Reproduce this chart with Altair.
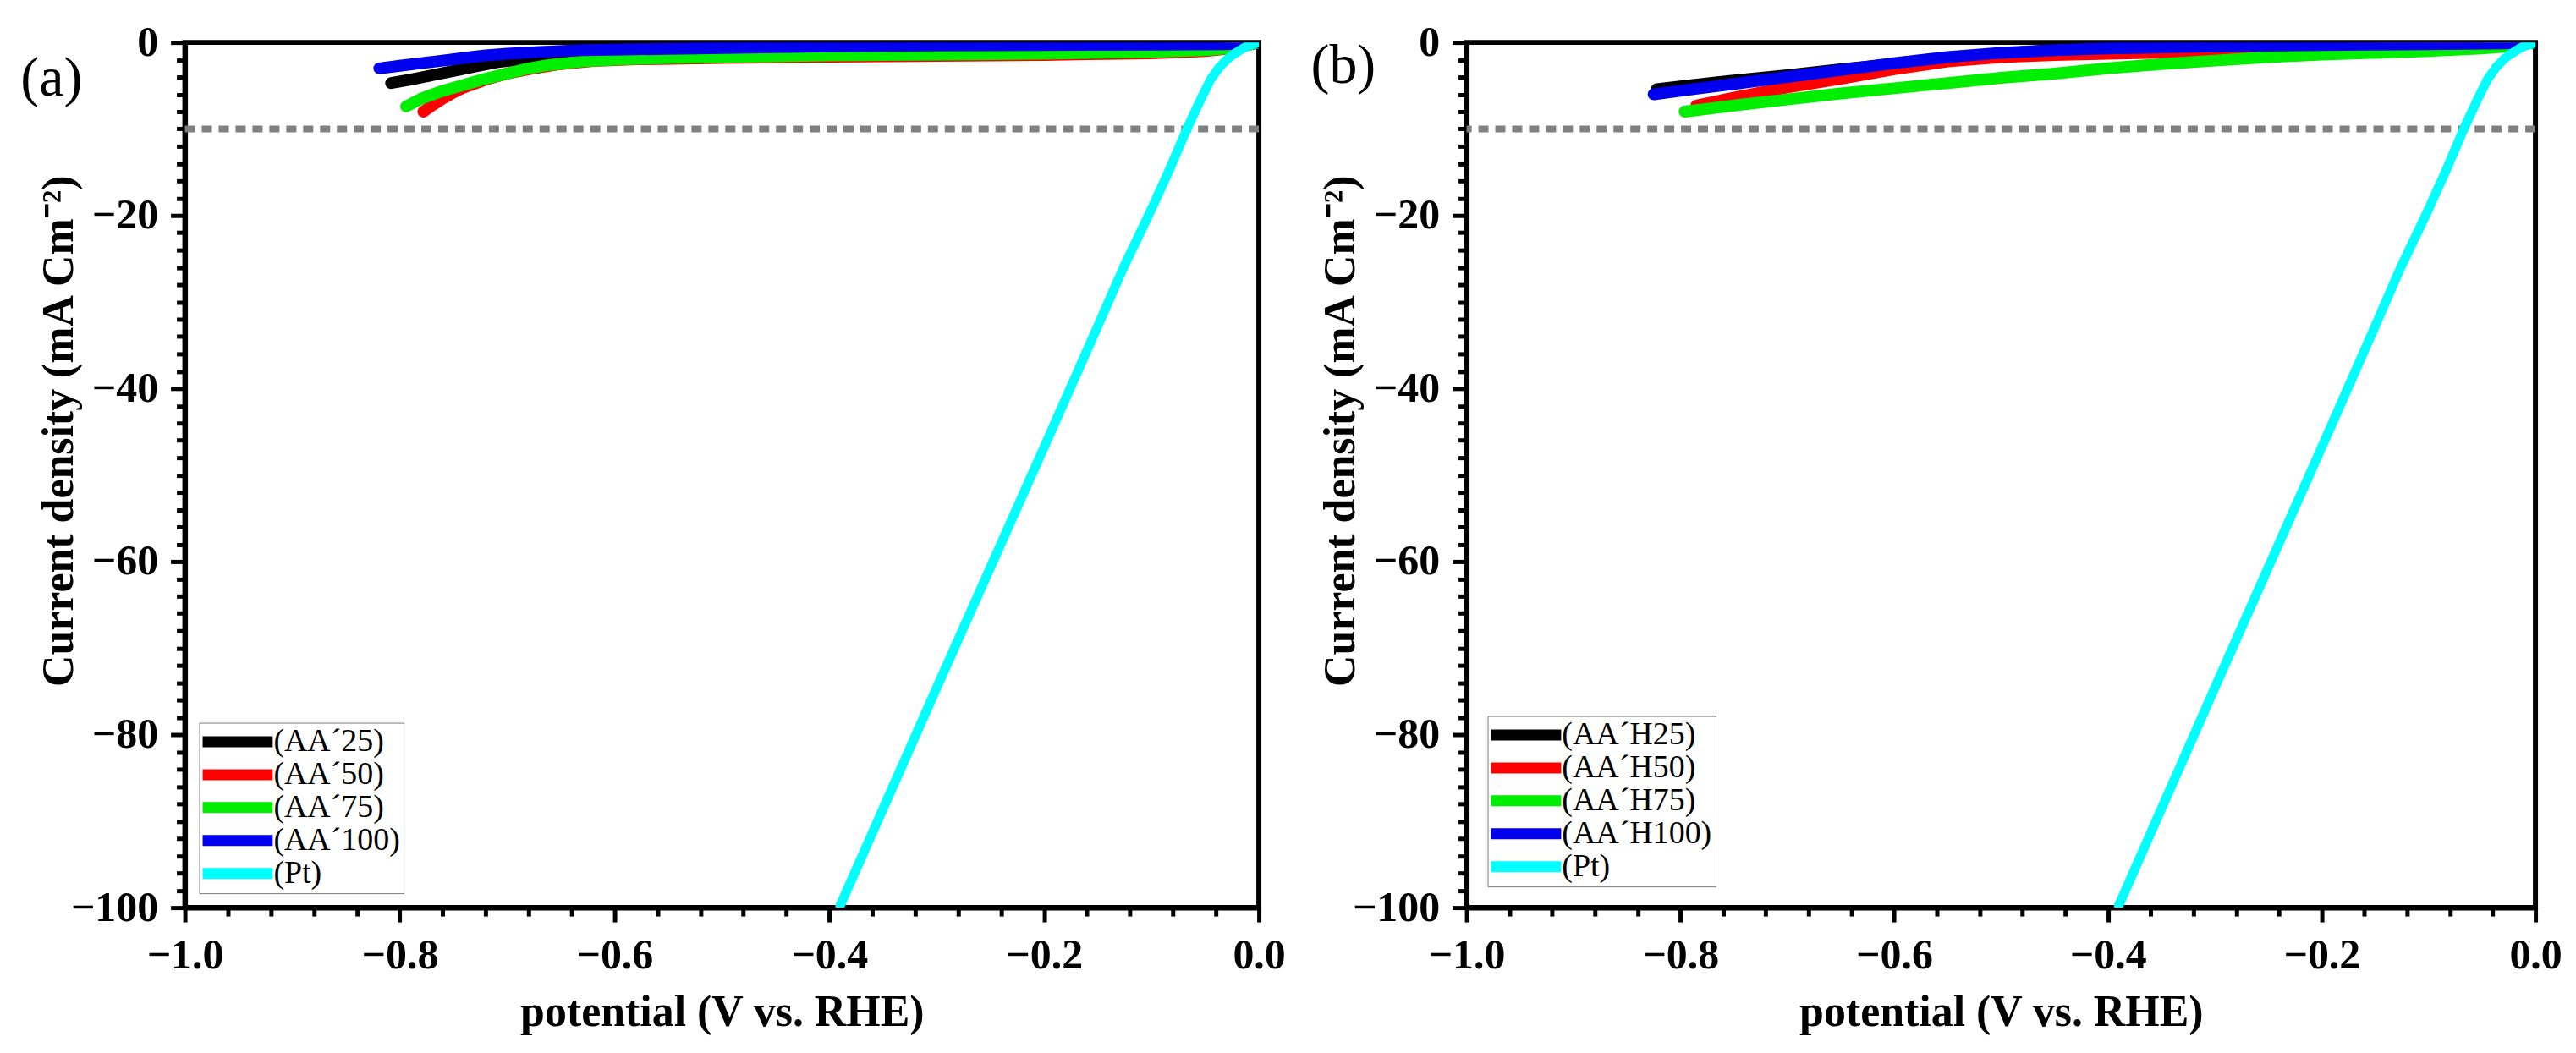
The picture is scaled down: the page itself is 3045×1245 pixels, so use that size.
import altair as alt
import pandas as pd

FONT = "Liberation Serif"
X_TITLE = "potential (V vs. RHE)"
Y_TITLE = "Current density (mA Cm\u207b\u00b2)"

colors = ["#000000", "#ff0000", "#00ee00", "#0000ee", "#00ffff"]

# ---------------- panel (a) ----------------
a_names = ["(AA\u00b425)", "(AA\u00b450)", "(AA\u00b475)", "(AA\u00b4100)", "(Pt)"]

a25_v = [-0.808, -0.79, -0.77, -0.75, -0.73, -0.71, -0.69, -0.67, -0.65, -0.62, -0.58, -0.5, -0.4, -0.3, -0.2, -0.1, -0.05, -0.02, 0.0]
a25_j = [-4.7, -4.3, -3.8, -3.3, -2.8, -2.3, -2.0, -1.8, -1.65, -1.5, -1.4, -1.3, -1.2, -1.1, -1.0, -0.9, -0.8, -0.5, 0.0]

a50_v = [-0.778, -0.77, -0.76, -0.75, -0.74, -0.72, -0.70, -0.68, -0.65, -0.62, -0.58, -0.5, -0.4, -0.3, -0.2, -0.1, -0.05, -0.02, 0.0]
a50_j = [-8.0, -7.3, -6.5, -5.8, -5.2, -4.3, -3.6, -3.1, -2.5, -2.15, -1.95, -1.8, -1.65, -1.55, -1.45, -1.25, -1.0, -0.6, 0.0]

a75_v = [-0.794, -0.78, -0.76, -0.74, -0.72, -0.70, -0.68, -0.66, -0.63, -0.60, -0.55, -0.5, -0.4, -0.3, -0.2, -0.1, -0.05, -0.02, 0.0]
a75_j = [-7.4, -6.5, -5.6, -4.9, -4.2, -3.6, -3.0, -2.6, -2.2, -2.0, -1.8, -1.7, -1.5, -1.4, -1.3, -1.1, -0.9, -0.6, 0.0]

a100_v = [-0.819, -0.80, -0.78, -0.76, -0.74, -0.72, -0.70, -0.67, -0.63, -0.58, -0.5, -0.4, -0.3, -0.2, -0.1, -0.03, 0.0]
a100_j = [-3.0, -2.7, -2.4, -2.1, -1.8, -1.5, -1.3, -1.1, -0.9, -0.8, -0.65, -0.45, -0.35, -0.3, -0.25, -0.2, 0.0]

pt_v = [0.0, -0.005, -0.01, -0.015, -0.02, -0.025, -0.03, -0.037, -0.045, -0.055, -0.067, -0.084, -0.102, -0.126, -0.15, -0.2, -0.25, -0.3, -0.35, -0.39]
pt_j = [0.0, -0.2, -0.4, -0.7, -1.1, -1.5, -2.0, -2.9, -4.3, -6.8, -10.0, -14.9, -19.8, -26.0, -32.8, -46.8, -60.7, -74.6, -88.6, -99.8]

# ---------------- panel (b) ----------------
b_names = ["(AA\u00b4H25)", "(AA\u00b4H50)", "(AA\u00b4H75)", "(AA\u00b4H100)", "(Pt)"]

b25_v = [-0.822, -0.80, -0.75, -0.70, -0.65, -0.60, -0.55, -0.50, -0.45, -0.40, -0.30, -0.20, -0.10, -0.03, 0.0]
b25_j = [-5.4, -5.1, -4.4, -3.8, -3.1, -2.5, -1.8, -1.3, -0.9, -0.7, -0.5, -0.35, -0.25, -0.15, 0.0]

b50_v = [-0.785, -0.75, -0.70, -0.65, -0.60, -0.55, -0.50, -0.45, -0.40, -0.32, -0.25, -0.15, -0.07, -0.02, 0.0]
b50_j = [-7.3, -6.4, -5.2, -4.2, -3.1, -2.2, -1.7, -1.45, -1.3, -1.1, -0.9, -0.7, -0.5, -0.3, 0.0]

b75_v = [-0.796, -0.75, -0.70, -0.65, -0.60, -0.55, -0.50, -0.45, -0.40, -0.35, -0.30, -0.25, -0.20, -0.15, -0.10, -0.05, -0.02, 0.0]
b75_j = [-8.0, -7.3, -6.6, -5.9, -5.3, -4.7, -4.1, -3.6, -3.0, -2.5, -2.1, -1.7, -1.4, -1.2, -1.0, -0.7, -0.4, 0.0]

b100_v = [-0.825, -0.80, -0.75, -0.70, -0.65, -0.60, -0.55, -0.50, -0.45, -0.40, -0.30, -0.20, -0.10, -0.03, 0.0]
b100_j = [-6.0, -5.6, -4.8, -4.0, -3.2, -2.4, -1.7, -1.2, -0.9, -0.7, -0.45, -0.3, -0.2, -0.1, 0.0]

ref_level = [-10]

# axis ticks (major every 0.2 / 20, minor every 0.04 / 2)
x_ticks = [round(-1 + 0.04 * i, 2) for i in range(26)]
y_ticks = [-2 * i for i in range(51)]

x_major = "abs(datum.value*5 - round(datum.value*5)) < 0.001"
y_major = "abs(datum.value % 20) < 0.001"

x_axis = alt.Axis(
    title=X_TITLE, values=x_ticks, format=".1f",
    labelExpr=f"{x_major} ? datum.label : ''",
    tickSize={"condition": {"test": x_major, "value": 17}, "value": 10},
    labelOverlap=False, labelFlush=False, labelPadding=15,
    titleY=124, titleBaseline="middle", grid=False,
)
y_axis = alt.Axis(
    title=Y_TITLE, values=y_ticks, format="d",
    labelExpr=f"{y_major} ? datum.label : ''",
    tickSize={"condition": {"test": y_major, "value": 17}, "value": 10},
    labelOverlap=False, labelFlush=False, labelPadding=15,
    titleX=-149, titleY=460, titleAngle=-90, titleAlign="center",
    titleBaseline="middle", grid=False,
)

x_enc = alt.X("V:Q", scale=alt.Scale(domain=[-1, 0], nice=False, zero=False), axis=x_axis)
y_enc = alt.Y("J:Q", scale=alt.Scale(domain=[-100, 0], nice=False), axis=y_axis)


def panel(names, series, label, label_x, label_y, width, legend_offset):
    color_scale = alt.Scale(domain=names, range=colors)
    legend = alt.Legend(
        title=None, orient="bottom-left", offset=legend_offset,
        strokeColor="#7a7a7a", fillColor="white", padding=4,
        symbolType="M-5,0H2", symbolSize=576, symbolStrokeWidth=13,
        symbolOffset=40, labelOffset=6, clipHeight=37,
        labelFont=FONT, labelFontSize=38, labelColor="black", labelLimit=400,
        rowPadding=0, symbolOpacity=1,
    )
    rule = alt.Chart(pd.DataFrame({"J": ref_level})).mark_rule(
        color="#808080", strokeWidth=8, strokeDash=[12, 8]
    ).encode(y=y_enc)
    layers = [rule]
    for k, (name, (vs, js)) in enumerate(zip(names, series)):
        df = pd.DataFrame({"V": vs, "J": js, "series": name, "idx": list(range(len(vs)))})
        layers.append(
            alt.Chart(df).mark_line(
                strokeWidth=11 if name == "(Pt)" else 14,
                strokeCap="round", strokeJoin="round", clip=True,
            ).encode(
                x=x_enc, y=y_enc, order=alt.Order("idx:Q"),
                color=alt.Color("series:N", scale=color_scale, legend=legend),
            )
        )
    txt = alt.Chart(pd.DataFrame({"t": [label]})).mark_text(
        font=FONT, fontSize=66, color="black", align="center", baseline="alphabetic"
    ).encode(text="t:N", x=alt.value(label_x), y=alt.value(label_y))
    layers.append(txt)
    return alt.layer(*layers).properties(width=width, height=1025)


pa = panel(a_names,
           [(a25_v, a25_j), (a50_v, a50_j), (a75_v, a75_j), (a100_v, a100_j), (pt_v, pt_j)],
           "(a)", -158, 63, 1272, 17)
pb = panel(b_names,
           [(b25_v, b25_j), (b50_v, b50_j), (b75_v, b75_j), (b100_v, b100_j), (pt_v, pt_j)],
           "(b)", -146, 48, 1266, 25)

chart = alt.hconcat(pa, pb, spacing=23).resolve_scale(color="independent").properties(
    padding={"left": 13, "top": 13, "right": 5, "bottom": 5},
    background="white",
).configure_view(
    stroke="black", strokeWidth=6
).configure_axis(
    domainColor="black", domainWidth=6, tickColor="black", tickWidth=5,
    labelFont=FONT, labelFontSize=50, labelFontWeight="bold", labelColor="black",
    titleFont=FONT, titleFontSize=52, titleFontWeight="bold", titleColor="black",
)

chart.save("out.html", embed_options={"renderer": "svg", "actions": False})
